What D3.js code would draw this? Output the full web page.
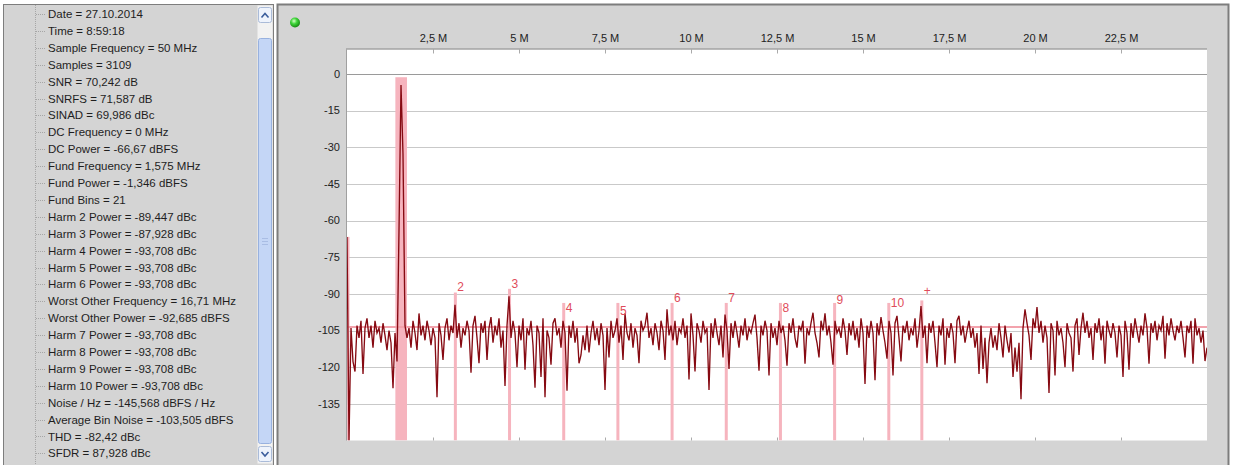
<!DOCTYPE html>
<html>
<head>
<meta charset="utf-8">
<title>FFT spectrum</title>
<script src="https://cdn.jsdelivr.net/npm/d3@7"></script>
<style>
  body { margin: 0; background: #fff; }
  svg { display: block; font-family: "Liberation Sans", Arial, sans-serif; }
</style>
</head>
<body>
<svg id="chart" width="1233" height="465"></svg>
<script>
// ---- data ----
const infoLines = [
  "Date = 27.10.2014", "Time = 8:59:18", "Sample Frequency = 50 MHz", "Samples = 3109",
  "SNR = 70,242 dB", "SNRFS = 71,587 dB", "SINAD = 69,986 dBc", "DC Frequency = 0 MHz",
  "DC Power = -66,67 dBFS", "Fund Frequency = 1,575 MHz", "Fund Power = -1,346 dBFS",
  "Fund Bins = 21", "Harm 2 Power = -89,447 dBc", "Harm 3 Power = -87,928 dBc",
  "Harm 4 Power = -93,708 dBc", "Harm 5 Power = -93,708 dBc", "Harm 6 Power = -93,708 dBc",
  "Worst Other Frequency = 16,71 MHz", "Worst Other Power = -92,685 dBFS",
  "Harm 7 Power = -93,708 dBc", "Harm 8 Power = -93,708 dBc", "Harm 9  Power = -93,708 dBc",
  "Harm 10 Power = -93,708 dBc", "Noise / Hz = -145,568 dBFS / Hz",
  "Average Bin Noise = -103,505 dBFS", "THD = -82,42 dBc", "SFDR = 87,928 dBc"
];

const xTickValues = [2.5, 5, 7.5, 10, 12.5, 15, 17.5, 20, 22.5];
const xTickLabels = ["2,5 M", "5 M", "7,5 M", "10 M", "12,5 M", "15 M", "17,5 M", "20 M", "22,5 M"];
const yTickValues = [0, -15, -30, -45, -60, -75, -90, -105, -120, -135];

const harmLabels  = ["2", "3", "4", "5", "6", "7", "8", "9", "10", "+"];
const harmFreqs   = [3.15, 4.725, 6.3, 7.875, 9.45, 11.025, 12.6, 14.175, 15.75, 16.71];
const harmTopDb   = [-89.447, -87.928, -93.708, -93.708, -93.708, -93.708, -93.708, -93.708, -93.708, -92.685];
const harmLabelDb = [-88.8, -87.5, -97.3, -98.6, -93.3, -93.2, -97.3, -94.1, -95.4, -90.4];

const fundFreq = 1.575, fundPowerDb = -1.346, fundBins = 21, fundBinWidth = 50 / 3109;
const dcPowerDb = -66.67;
const avgNoiseDb = -103.505;
const spanMHz = 25;

// spectrum trace, one value every ~0.058 MHz from 0 to 25 MHz
const spectrumDb = [
  -66.7, -150, -104, -117.7, -121.8, -103, -108, -101, -122.8, -104,
  -100, -108, -103, -112, -101, -106, -104, -110, -102, -107,
  -113, -105, -110, -128.6, -106, -117.7, -64, -4.5, -33, -103,
  -108, -104, -112, -101, -106, -113, -98, -107, -103, -109,
  -101, -105, -111, -104, -108, -132.3, -102, -107, -117, -104,
  -100, -109, -103, -106, -94.5, -108, -102, -112, -104, -107,
  -101, -105, -122.3, -103, -99, -108, -118.4, -102, -106, -101,
  -117, -104, -99.5, -110, -103, -107, -100, -112, -105, -127.7,
  -103, -91, -108, -101, -106, -120, -103, -109, -100, -121,
  -104, -107, -101, -111, -128.4, -103, -106, -124, -100, -132.3,
  -105, -108, -119, -102, -100, -107, -104, -112, -101, -106,
  -129.6, -103, -108, -101, -110, -104, -118.4, -115, -107, -113,
  -103, -114, -106, -101, -109, -104, -111, -102, -107, -129.3,
  -104, -116, -101, -108, -105, -100, -110, -103, -117, -98,
  -106, -109, -102, -112, -104, -107, -118.4, -101, -105, -103,
  -97.7, -108, -104, -111, -102, -106, -113, -101, -105, -117,
  -96.3, -107, -103, -109, -101, -111, -104, -106, -100, -108,
  -103, -125, -98, -107, -121.8, -102, -105, -110, -101, -106,
  -104, -129.3, -102, -108, -100, -106, -111, -103, -116, -98.5,
  -105, -120.7, -102, -108, -101, -106, -112, -103, -107, -100,
  -109, -104, -106, -102, -98.5, -108, -121.4, -103, -107, -101,
  -105, -123.4, -102, -108, -104, -111, -101, -106, -103, -109,
  -119.4, -102, -106, -100, -108, -112, -103, -105, -101, -118.6,
  -104, -107, -102, -97.7, -106, -110, -116, -101, -105, -98,
  -107, -103, -110, -119, -101, -106, -104, -108, -100, -105,
  -115, -102, -107, -101, -109, -104, -112, -100, -106, -126.9,
  -103, -108, -101, -106, -125.3, -102, -107, -99.5, -105, -110,
  -116.5, -101, -106, -123.4, -102, -99, -108, -117.7, -103, -106,
  -101, -109, -104, -107, -100, -112, -105, -95, -108, -103,
  -118.4, -102, -106, -101, -110, -120, -103, -107, -100, -119,
  -104, -108, -102, -106, -118.4, -101, -99, -107, -103, -110,
  -105, -101, -108, -104, -112, -106, -122.8, -103, -120.7, -108,
  -126.6, -110, -104, -112, -107, -113, -102, -108, -116, -103,
  -109, -114, -106, -124, -112, -121.8, -110, -133.1, -104, -96.3,
  -102, -107, -117, -100, -104, -95.4, -106, -101, -110, -103,
  -108, -130.6, -102, -105, -123.4, -101, -107, -104, -110, -120,
  -102, -106, -108, -121.8, -103, -100, -115, -104, -97.7, -106,
  -101, -108, -104, -117, -102, -106, -100, -109, -103, -118.6,
  -101, -105, -108, -102, -106, -116, -103, -107, -124, -101,
  -106, -121, -102, -108, -100, -105, -110, -103, -107, -98,
  -104, -118.6, -102, -106, -101, -109, -103, -105, -99, -116.5,
  -102, -107, -100, -105, -109, -103, -106, -101, -108, -116,
  -103, -106, -101, -118.6, -100, -107, -104, -110, -105, -117.5,
  -112
];

// ---- layout ----
const svg = d3.select("#chart");
const plot = { left: 347, top: 49.5, right: 1207, bottom: 440.5 };
const x = d3.scaleLinear().domain([0, spanMHz]).range([plot.left, plot.right]);
const y = d3.scaleLinear().domain([10, -150]).range([plot.top, plot.bottom]);
const binStep = spanMHz / (spectrumDb.length - 1);

// left info panel
svg.append("rect").attr("x", 3.5).attr("y", 4.5).attr("width", 270).attr("height", 470)
  .attr("fill", "#d4d4d4").attr("stroke", "#7d7d7d");
svg.append("line").attr("x1", 35.5).attr("x2", 35.5).attr("y1", 5).attr("y2", 465)
  .attr("stroke", "#a6a6a6").attr("stroke-dasharray", "1,1");

const rows = svg.append("g");
infoLines.forEach((t, i) => {
  const ry = 14 + i * 16.9;
  rows.append("line").attr("x1", 36).attr("x2", 45).attr("y1", Math.round(ry) + 0.5).attr("y2", Math.round(ry) + 0.5)
    .attr("stroke", "#a6a6a6").attr("stroke-dasharray", "1,1");
  rows.append("text").attr("x", 48).attr("y", ry).attr("dy", "0.35em")
    .attr("font-size", 11.5).attr("fill", "#1e1e1e").text(t);
});

// scrollbar
const sb = svg.append("g");
sb.append("rect").attr("x", 257.5).attr("y", 5.5).attr("width", 15).attr("height", 458).attr("fill", "#f2f2f2");
sb.append("rect").attr("x", 258.5).attr("y", 7.5).attr("width", 13).attr("height", 15).attr("rx", 2)
  .attr("fill", "#eef3fc").attr("stroke", "#aabbd8");
sb.append("path").attr("d", "M261.5,17.5 L265,13.5 L268.5,17.5").attr("fill", "none").attr("stroke", "#3b5d9c").attr("stroke-width", 1.6);
sb.append("rect").attr("x", 258.5).attr("y", 38.5).attr("width", 13).attr("height", 405).attr("rx", 2)
  .attr("fill", "#c4d6f6").attr("stroke", "#98b1df");
[238, 241, 244].forEach(gy => sb.append("line").attr("x1", 262).attr("x2", 268).attr("y1", gy + 0.5).attr("y2", gy + 0.5).attr("stroke", "#a9bde4"));
sb.append("rect").attr("x", 258.5).attr("y", 446.5).attr("width", 13).attr("height", 15).attr("rx", 2)
  .attr("fill", "#eef3fc").attr("stroke", "#aabbd8");
sb.append("path").attr("d", "M261.5,452 L265,456 L268.5,452").attr("fill", "none").attr("stroke", "#3b5d9c").attr("stroke-width", 1.6);

// right chart panel
svg.append("rect").attr("x", 277.5).attr("y", 4.5).attr("width", 951).attr("height", 470)
  .attr("fill", "#d4d4d4").attr("stroke", "#7d7d7d").attr("stroke-width", 2);

const led = svg.append("defs").append("radialGradient").attr("id", "led").attr("cx", "40%").attr("cy", "35%").attr("r", "65%");
led.append("stop").attr("offset", "0%").attr("stop-color", "#d8ffc8");
led.append("stop").attr("offset", "45%").attr("stop-color", "#3fd63a");
led.append("stop").attr("offset", "100%").attr("stop-color", "#168a12");
svg.append("circle").attr("cx", 295).attr("cy", 22.5).attr("r", 5).attr("fill", "url(#led)");

// plot background
svg.append("rect").attr("x", plot.left).attr("y", plot.top).attr("width", plot.right - plot.left)
  .attr("height", plot.bottom - plot.top).attr("fill", "#fff");
svg.append("clipPath").attr("id", "clip").append("rect").attr("x", plot.left).attr("y", plot.top)
  .attr("width", plot.right - plot.left).attr("height", plot.bottom - plot.top);

// grid
svg.append("g").selectAll("line").data(yTickValues).join("line")
  .attr("x1", plot.left).attr("x2", plot.right)
  .attr("y1", d => Math.round(y(d)) + 0.5).attr("y2", d => Math.round(y(d)) + 0.5)
  .attr("stroke", d => d === 0 ? "#9a9a9a" : "#c9c9c9");

// y labels
svg.append("g").selectAll("text").data(yTickValues).join("text")
  .attr("x", 340).attr("y", d => y(d)).attr("dy", "0.35em").attr("text-anchor", "end")
  .attr("font-size", 11).attr("fill", "#222").text(d => d);

// x axis on top
const xAxis = d3.axisTop(x).tickValues(xTickValues).tickFormat((d, i) => xTickLabels[i]).tickSize(0).tickPadding(8);
const gx = svg.append("g").attr("transform", `translate(0,${plot.top})`).call(xAxis);
gx.select(".domain").remove();
gx.selectAll("text").attr("font-size", 11).attr("fill", "#222").attr("font-family", "Liberation Sans, Arial, sans-serif");
svg.append("g").selectAll("line").data(xTickValues).join("line")
  .attr("x1", d => Math.round(x(d)) + 0.5).attr("x2", d => Math.round(x(d)) + 0.5)
  .attr("y1", plot.top).attr("y2", plot.top + 4).attr("stroke", "#aaa");
svg.append("g").selectAll("line").data(xTickValues).join("line")
  .attr("x1", d => Math.round(x(d)) + 0.5).attr("x2", d => Math.round(x(d)) + 0.5)
  .attr("y1", plot.bottom - 3).attr("y2", plot.bottom).attr("stroke", "#aaa");

// highlighted bins
const pink = "#f6b4be";
const marks = svg.append("g").attr("clip-path", "url(#clip)");
marks.append("rect").attr("x", x(0)).attr("y", y(dcPowerDb)).attr("width", 2.5)
  .attr("height", plot.bottom - y(dcPowerDb)).attr("fill", pink);
const half = fundBins * fundBinWidth / 2;
marks.append("rect").attr("x", x(fundFreq - half)).attr("y", y(fundPowerDb))
  .attr("width", x(fundFreq + half) - x(fundFreq - half)).attr("height", plot.bottom - y(fundPowerDb)).attr("fill", pink);
marks.selectAll(".harm").data(harmFreqs).join("rect").attr("class", "harm")
  .attr("x", d => x(d) - 1.5).attr("width", 3)
  .attr("y", (d, i) => y(harmTopDb[i])).attr("height", (d, i) => plot.bottom - y(harmTopDb[i]))
  .attr("fill", pink);

// average bin noise
marks.append("line").attr("x1", plot.left).attr("x2", plot.right)
  .attr("y1", y(avgNoiseDb)).attr("y2", y(avgNoiseDb)).attr("stroke", "#f3a3ad").attr("stroke-width", 2);

// spectrum trace
const line = d3.line().x((d, i) => x(i * binStep)).y(d => y(d));
marks.append("path").datum(spectrumDb).attr("d", line)
  .attr("fill", "none").attr("stroke", "#860a12").attr("stroke-width", 1.35).attr("stroke-linejoin", "miter");

// harmonic labels
svg.append("g").selectAll("text").data(harmLabels).join("text")
  .attr("x", (d, i) => x(harmFreqs[i]) + 2).attr("y", (d, i) => y(harmLabelDb[i]))
  .attr("font-size", 12).attr("fill", "#df4c5a").text(d => d);

// plot border
svg.append("line").attr("x1", plot.left - 1).attr("x2", plot.right).attr("y1", plot.top - 0.5).attr("y2", plot.top - 0.5).attr("stroke", "#8a8a8a");
svg.append("line").attr("x1", plot.left - 0.5).attr("x2", plot.left - 0.5).attr("y1", plot.top).attr("y2", plot.bottom).attr("stroke", "#a0a0a0");
</script>
</body>
</html>
